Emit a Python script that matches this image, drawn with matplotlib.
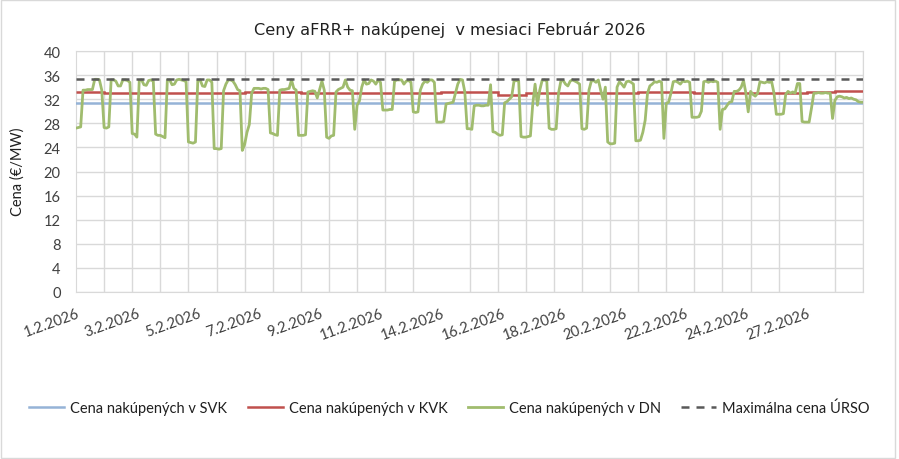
import matplotlib
matplotlib.use("Agg")
import matplotlib.pyplot as plt
import matplotlib.ticker as ticker
from matplotlib.patches import Rectangle
from matplotlib.lines import Line2D
import numpy as np

title = "Ceny aFRR+ nakúpenej  v mesiaci Február 2026"
ylabel = "Cena (€/MW)"
series_names = ["Cena nakúpených v SVK", "Cena nakúpených v KVK",
                "Cena nakúpených v DN", "Maximálna cena ÚRSO"]

date_labels = ["1.2.2026", "3.2.2026", "5.2.2026", "7.2.2026", "9.2.2026",
               "11.2.2026", "14.2.2026", "16.2.2026", "18.2.2026", "20.2.2026",
               "22.2.2026", "24.2.2026", "27.2.2026"]
label_step = 52   # hodiny medzi popismi osi x
hours_in_month = 672

# DN - hodnota kazde 2 hodiny, jeden riadok = jeden den
dn_days = [
    [27.2, 27.3, 27.4, 33.5, 33.5, 33.6, 33.6, 33.6, 35.3, 35.3, 35.2, 33.5],
    [27.3, 27.2, 27.4, 35.2, 35.2, 35.0, 34.2, 34.2, 35.2, 35.2, 35.1, 34.8],
    [26.3, 26.2, 25.7, 35.1, 35.2, 34.4, 34.3, 35.1, 35.2, 35.0, 26.2, 26.0],
    [26.0, 25.8, 25.6, 35.2, 35.2, 34.4, 34.5, 35.2, 35.3, 35.2, 35.1, 34.9],
    [24.9, 24.8, 24.7, 24.9, 35.1, 35.2, 34.2, 34.1, 35.2, 35.2, 34.8, 23.8],
    [23.8, 23.7, 23.8, 33.4, 34.5, 35.2, 35.2, 35.0, 34.4, 33.6, 33.4, 23.5],
    [24.5, 26.5, 27.8, 33.0, 33.8, 33.8, 33.8, 33.7, 33.8, 33.8, 33.6, 26.4],
    [26.3, 26.1, 26.0, 33.5, 33.6, 33.6, 33.7, 33.8, 35.2, 33.8, 33.5, 26.0],
    [26.0, 26.0, 26.1, 33.2, 33.3, 33.4, 33.3, 32.2, 33.6, 35.0, 33.5, 25.7],
    [25.5, 25.9, 26.0, 33.2, 33.6, 33.8, 34.0, 35.2, 34.0, 33.5, 33.4, 27.0],
    [31.0, 31.7, 34.0, 35.2, 34.5, 34.6, 35.2, 35.0, 34.5, 35.2, 34.8, 30.2],
    [30.2, 30.2, 30.3, 30.3, 35.0, 35.2, 35.2, 35.2, 34.5, 35.0, 35.1, 34.8],
    [29.9, 29.8, 29.9, 33.5, 34.5, 35.0, 34.8, 35.2, 35.2, 34.8, 28.2, 28.2],
    [28.2, 28.3, 31.2, 31.3, 31.4, 31.5, 33.0, 34.5, 35.3, 35.2, 33.2, 27.1],
    [27.1, 27.0, 30.9, 31.0, 31.0, 30.9, 30.9, 31.0, 31.0, 34.4, 26.6, 26.5],
    [26.2, 26.0, 26.1, 31.4, 31.6, 32.0, 32.4, 35.0, 35.1, 35.0, 25.8, 25.7],
    [25.7, 25.8, 25.9, 31.2, 34.5, 31.0, 33.5, 35.1, 35.2, 35.0, 27.2, 27.0],
    [27.0, 27.1, 33.0, 35.0, 35.1, 34.5, 34.2, 35.0, 35.2, 35.0, 34.8, 34.5],
    [27.1, 27.0, 27.2, 33.5, 35.0, 35.1, 34.8, 35.2, 33.5, 32.0, 34.0, 24.9],
    [24.6, 24.6, 24.7, 34.0, 34.9, 34.5, 34.0, 34.9, 35.0, 34.8, 34.5, 25.1],
    [25.1, 25.2, 26.5, 28.5, 33.0, 34.2, 34.5, 34.9, 34.8, 35.0, 34.8, 25.5],
    [31.3, 31.5, 33.0, 34.9, 35.0, 34.8, 34.5, 35.0, 34.9, 35.0, 34.8, 29.0],
    [29.0, 29.0, 29.1, 30.0, 34.9, 35.0, 34.8, 35.0, 34.9, 35.0, 34.8, 27.0],
    [30.3, 30.4, 31.0, 31.5, 31.6, 33.3, 33.3, 33.5, 34.0, 35.1, 33.0, 29.9],
    [33.3, 32.8, 32.5, 33.0, 34.9, 34.8, 34.7, 34.9, 34.8, 34.9, 33.0, 29.5],
    [29.5, 29.5, 29.6, 32.8, 33.3, 33.0, 33.2, 33.0, 34.6, 34.6, 28.3, 28.2],
    [28.2, 28.2, 30.5, 33.0, 33.0, 33.1, 33.0, 33.0, 33.1, 33.0, 33.0, 28.8],
    [31.8, 32.4, 32.5, 32.4, 32.2, 32.3, 32.1, 32.2, 32.0, 31.9, 31.6, 31.5],
]
dn_last = 31.5

# KVK - denne hodnoty
kvk = [33.25, 32.95, 32.95, 32.95, 32.95, 32.95, 33.2, 33.2, 32.95, 32.95,
       33.05, 33.05, 33.05, 33.25, 33.25, 32.75, 32.95, 32.95, 32.95, 32.95,
       33.2, 33.2, 32.95, 32.95, 32.95, 32.95, 33.15, 33.35]
svk = 31.3
max_urso = 35.35

c_svk = "#95B3D7"
c_kvk = "#C0504D"
c_dn = "#A0BC6E"
c_max = "#595959"
c_grid = "#D9D9D9"
c_text = "#404040"

narrow = ["Lato", "DejaVu Sans"]

dn = np.concatenate(dn_days + [[dn_last]])
x_dn = np.arange(len(dn)) * 2
day_edges = np.arange(len(kvk) + 1) * 24

fig = plt.figure(figsize=(8.99, 4.6), dpi=100)
ax = fig.add_axes([76 / 899, 1 - 293 / 460, 787 / 899, 241 / 460])

ax.axhline(svk, color=c_svk, lw=1.8, zorder=3)
ax.stairs(kvk, day_edges, color=c_kvk, lw=1.8, baseline=None, zorder=4)
ax.plot(x_dn, dn, color=c_dn, lw=2.0, zorder=5, solid_joinstyle="round")
ax.axhline(max_urso, color=c_max, lw=1.8, ls=(0, (3.2, 2.8)), zorder=6)

ax.set_xlim(0, hours_in_month)
ax.set_ylim(0, 40)
ax.yaxis.set_major_locator(ticker.MultipleLocator(4))
ax.xaxis.set_minor_locator(ticker.MultipleLocator(24))
ax.set_xticks(np.arange(len(date_labels)) * label_step)
ax.set_xticklabels(date_labels, rotation=20, ha="right", va="top",
                   rotation_mode="anchor", family=narrow, fontsize=10.5,
                   color=c_text)
for lab in ax.get_yticklabels():
    lab.set_family(narrow)
ax.tick_params(axis="y", length=0, pad=11, labelsize=10.5, labelcolor=c_text)
ax.tick_params(axis="x", which="both", length=0, pad=10)

ax.grid(axis="y", color=c_grid, lw=1)
ax.grid(axis="x", which="minor", color=c_grid, lw=1)
ax.set_axisbelow(True)
for s in ax.spines.values():
    s.set_color(c_grid)

fig.text(0.5, 1 - 30 / 460, title, ha="center", va="center",
         fontsize=11.6, color="#202020")
fig.text(18 / 899, 1 - 172 / 460, ylabel, ha="center", va="center",
         rotation=90, fontsize=10.5, family=narrow, color="#202020")

handles = [Line2D([], [], color=c_svk, lw=1.8),
           Line2D([], [], color=c_kvk, lw=1.8),
           Line2D([], [], color=c_dn, lw=2.0),
           Line2D([], [], color=c_max, lw=1.8, ls=(0, (3.2, 2.8)))]
fig.legend(handles, series_names, loc="center", bbox_to_anchor=(0.5, 1 - 409 / 460),
           ncol=4, frameon=False, handlelength=2.4, handletextpad=0.4,
           columnspacing=1.4, prop={"family": narrow, "size": 10.5},
           labelcolor="#202020")

fig.patches.append(Rectangle((0.001, 0.002), 0.995, 0.995, transform=fig.transFigure,
                             fill=False, edgecolor=c_grid, lw=1))

fig.savefig("out.png", dpi=100)
